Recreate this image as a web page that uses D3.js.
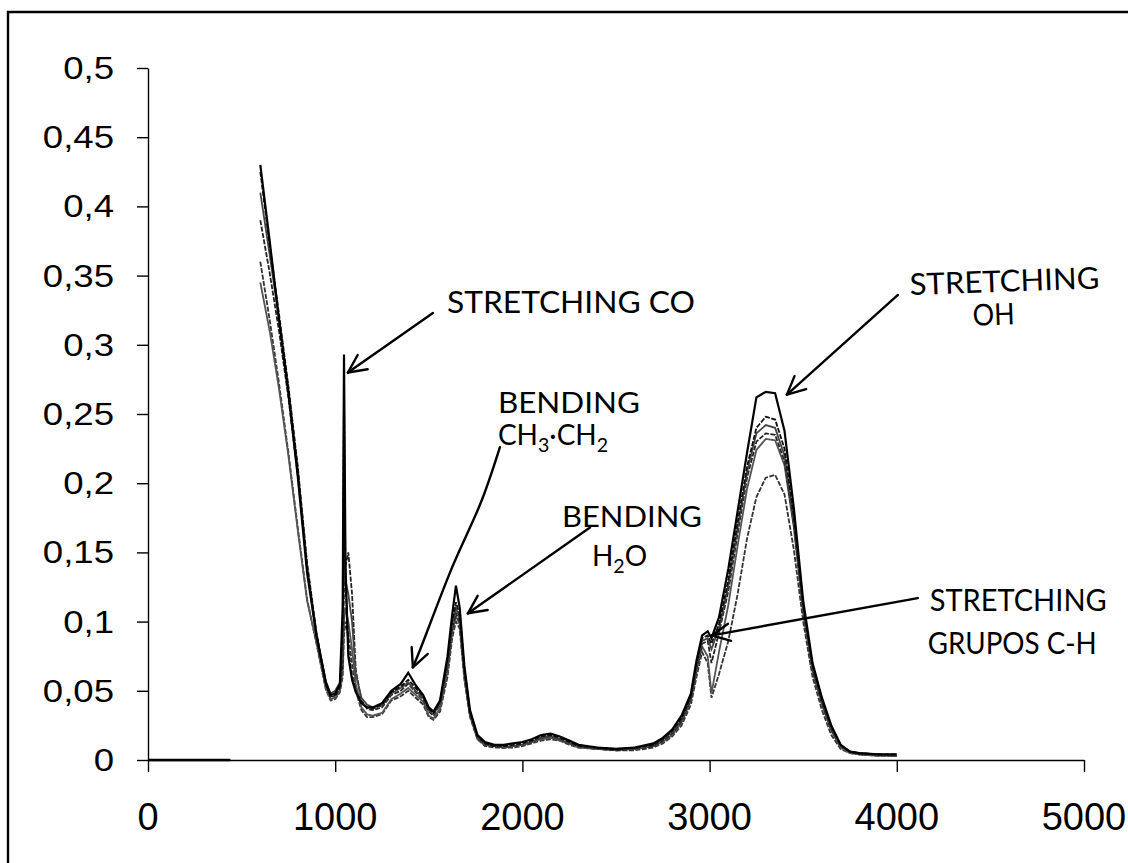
<!DOCTYPE html>
<html lang="es">
<head>
  <meta charset="UTF-8">
  <title>Espectro IR</title>
  <script src="https://d3js.org/d3.v7.min.js"></script>
  <style>
    body { margin: 0; background: #fff; }
    svg { display: block; }
    .hand { font-family: "Lato", "Open Sans", sans-serif; font-weight: 400; fill: #000; }
  </style>
</head>
<body>
<div id="chart"></div>
<script>
// wavenumber grid (cm-1)
const wavenumbers = [600, 650, 700, 750, 800, 850, 900, 950, 975, 1000,
  1025, 1040, 1047, 1055, 1070, 1090, 1110, 1140, 1170, 1200,
  1250, 1300, 1350, 1390, 1430, 1470, 1500, 1525, 1560, 1600,
  1625, 1645, 1665, 1690, 1720, 1760, 1800, 1850, 1900, 1950,
  2000, 2050, 2100, 2150, 2200, 2250, 2300, 2400, 2500, 2600,
  2700, 2750, 2800, 2850, 2900, 2930, 2960, 2990, 3010, 3050,
  3100, 3150, 3200, 3250, 3300, 3350, 3400, 3450, 3500, 3550,
  3600, 3650, 3700, 3750, 3800, 3900, 4000];

// absorbance of each sample
const sample1 = [0.430, 0.375, 0.318, 0.265, 0.205, 0.135, 0.090, 0.056, 0.047, 0.048,
  0.055, 0.110, 0.293, 0.140, 0.075, 0.058, 0.049, 0.041, 0.038, 0.038,
  0.041, 0.050, 0.055, 0.063, 0.054, 0.047, 0.038, 0.035, 0.043, 0.075,
  0.105, 0.126, 0.110, 0.068, 0.036, 0.018, 0.013, 0.011, 0.011, 0.012,
  0.013, 0.015, 0.018, 0.019, 0.017, 0.014, 0.011, 0.009, 0.008, 0.009,
  0.012, 0.016, 0.022, 0.032, 0.048, 0.072, 0.090, 0.093, 0.088, 0.103,
  0.138, 0.180, 0.222, 0.262, 0.266, 0.265, 0.238, 0.182, 0.115, 0.070,
  0.045, 0.025, 0.011, 0.006, 0.005, 0.004, 0.004];
const sample2 = [0.425, 0.372, 0.322, 0.270, 0.212, 0.142, 0.092, 0.055, 0.046, 0.047,
  0.054, 0.095, 0.264, 0.130, 0.080, 0.060, 0.050, 0.042, 0.038, 0.037,
  0.040, 0.049, 0.053, 0.058, 0.052, 0.046, 0.037, 0.034, 0.042, 0.072,
  0.100, 0.114, 0.105, 0.066, 0.035, 0.017, 0.012, 0.010, 0.010, 0.011,
  0.012, 0.014, 0.017, 0.018, 0.016, 0.013, 0.010, 0.009, 0.008, 0.009,
  0.011, 0.015, 0.021, 0.030, 0.046, 0.070, 0.088, 0.090, 0.084, 0.098,
  0.130, 0.172, 0.212, 0.240, 0.248, 0.246, 0.225, 0.175, 0.112, 0.068,
  0.043, 0.024, 0.011, 0.006, 0.005, 0.004, 0.004];
const sample3 = [0.410, 0.365, 0.318, 0.268, 0.210, 0.140, 0.091, 0.057, 0.048, 0.050,
  0.056, 0.080, 0.160, 0.130, 0.120, 0.100, 0.062, 0.045, 0.040, 0.038,
  0.039, 0.048, 0.052, 0.056, 0.050, 0.045, 0.036, 0.033, 0.041, 0.070,
  0.098, 0.110, 0.102, 0.064, 0.034, 0.016, 0.011, 0.010, 0.009, 0.010,
  0.011, 0.013, 0.016, 0.017, 0.015, 0.012, 0.010, 0.008, 0.008, 0.008,
  0.011, 0.015, 0.020, 0.029, 0.045, 0.068, 0.086, 0.088, 0.080, 0.095,
  0.126, 0.168, 0.208, 0.236, 0.242, 0.240, 0.220, 0.172, 0.110, 0.066,
  0.042, 0.023, 0.010, 0.006, 0.005, 0.004, 0.003];
const sample4 = [0.390, 0.352, 0.310, 0.262, 0.206, 0.138, 0.089, 0.054, 0.046, 0.046,
  0.052, 0.070, 0.120, 0.140, 0.150, 0.120, 0.065, 0.043, 0.037, 0.036,
  0.038, 0.047, 0.050, 0.055, 0.049, 0.044, 0.035, 0.032, 0.040, 0.068,
  0.095, 0.106, 0.100, 0.062, 0.033, 0.016, 0.011, 0.010, 0.009, 0.010,
  0.011, 0.013, 0.016, 0.017, 0.015, 0.012, 0.010, 0.008, 0.007, 0.008,
  0.010, 0.014, 0.019, 0.028, 0.044, 0.066, 0.084, 0.086, 0.070, 0.092,
  0.122, 0.164, 0.204, 0.230, 0.236, 0.235, 0.216, 0.170, 0.108, 0.065,
  0.041, 0.022, 0.010, 0.006, 0.004, 0.004, 0.003];
const sample5 = [0.345, 0.310, 0.268, 0.220, 0.166, 0.115, 0.085, 0.052, 0.044, 0.045,
  0.050, 0.065, 0.100, 0.110, 0.100, 0.080, 0.055, 0.038, 0.033, 0.032,
  0.034, 0.044, 0.048, 0.052, 0.047, 0.042, 0.032, 0.030, 0.037, 0.064,
  0.092, 0.104, 0.098, 0.060, 0.032, 0.015, 0.011, 0.010, 0.009, 0.010,
  0.011, 0.013, 0.015, 0.016, 0.014, 0.012, 0.009, 0.008, 0.007, 0.008,
  0.010, 0.013, 0.018, 0.027, 0.043, 0.064, 0.082, 0.075, 0.048, 0.078,
  0.112, 0.155, 0.196, 0.224, 0.232, 0.231, 0.213, 0.168, 0.106, 0.064,
  0.040, 0.021, 0.009, 0.005, 0.004, 0.003, 0.003];
const sample6 = [0.360, 0.318, 0.272, 0.222, 0.168, 0.116, 0.084, 0.051, 0.043, 0.044,
  0.049, 0.060, 0.090, 0.100, 0.090, 0.070, 0.050, 0.036, 0.031, 0.031,
  0.033, 0.043, 0.046, 0.050, 0.045, 0.040, 0.031, 0.029, 0.035, 0.060,
  0.088, 0.100, 0.095, 0.058, 0.031, 0.015, 0.010, 0.009, 0.009, 0.009,
  0.010, 0.012, 0.014, 0.015, 0.014, 0.011, 0.009, 0.008, 0.007, 0.007,
  0.009, 0.012, 0.017, 0.025, 0.040, 0.060, 0.078, 0.070, 0.045, 0.062,
  0.086, 0.120, 0.160, 0.190, 0.204, 0.206, 0.192, 0.152, 0.100, 0.060,
  0.036, 0.018, 0.008, 0.005, 0.004, 0.003, 0.003];

// short flat trace lying on the axis
const zeroX = [0, 440];
const zeroY = [0, 0];

const xTicks = [0, 1000, 2000, 3000, 4000, 5000];
const yTicks = [0, 0.05, 0.1, 0.15, 0.2, 0.25, 0.3, 0.35, 0.4, 0.45, 0.5];

const samples = [sample6, sample5, sample4, sample3, sample2, sample1];
const sampleColors = ["#333", "#555", "#222", "#444", "#111", "#000"];

const width = 1128, height = 863;
const svg = d3.select("#chart").append("svg")
  .attr("width", width)
  .attr("height", height);

svg.append("rect").attr("width", width).attr("height", height).attr("fill", "#fff");

// scanned frame (top and left edges only)
svg.append("path")
  .attr("d", "M8,863 L8,12 L1128,12")
  .attr("fill", "none")
  .attr("stroke", "#000")
  .attr("stroke-width", 2.4);

const x = d3.scaleLinear().domain([0, 5000]).range([148, 1084]);
const y = d3.scaleLinear().domain([0, 0.5]).range([760, 68]);

const fmt = d => String(+d.toFixed(2)).replace(".", ",");

// axes
const yAxis = svg.append("g")
  .attr("transform", "translate(148,0)")
  .call(d3.axisLeft(y).tickValues(yTicks).tickSize(11).tickSizeOuter(0).tickFormat(""));
const xAxis = svg.append("g")
  .attr("transform", "translate(0,760)")
  .call(d3.axisBottom(x).tickValues(xTicks).tickSize(12).tickSizeOuter(0).tickFormat(""));
[xAxis, yAxis].forEach(g => {
  g.selectAll("path, line").attr("stroke", "#000").attr("stroke-width", 1.4);
});

svg.append("g").selectAll("text")
  .data(yTicks)
  .join("text")
  .attr("transform", d => `translate(114,${y(d) + 11}) scale(1.18,1)`)
  .attr("text-anchor", "end")
  .attr("font-family", "'Liberation Sans', Arial, sans-serif")
  .attr("font-size", 31)
  .attr("fill", "#000")
  .text(fmt);

svg.append("g").selectAll("text")
  .data(xTicks)
  .join("text")
  .attr("x", d => x(d))
  .attr("y", 830)
  .attr("text-anchor", "middle")
  .attr("font-family", "'Liberation Sans', Arial, sans-serif")
  .attr("font-size", 38)
  .attr("fill", "#000")
  .text(d => String(d));

// spectra
const line = d3.line()
  .x(d => x(d[0]))
  .y(d => y(d[1]));

svg.append("path")
  .attr("d", line(zeroX.map((v, i) => [v, zeroY[i]])))
  .attr("fill", "none")
  .attr("stroke", "#000")
  .attr("stroke-width", 2.6);

samples.forEach((s, k) => {
  svg.append("path")
    .attr("d", line(wavenumbers.map((w, i) => [w, s[i]])))
    .attr("fill", "none")
    .attr("stroke", sampleColors[k])
    .attr("stroke-width", k === samples.length - 1 ? 2.2 : 1.8)
    .attr("stroke-dasharray", k % 2 === 0 ? "5,1.5" : null);
});

// hand-written notes (positions in data units)
const notes = [
  { lines: [["STRETCHING CO"]], at: [1597, 0.323], size: 30, len: [248], rot: 0 },
  { lines: [["BENDING"], ["CH", "3", "·CH", "2"]], at: [1869, 0.251], size: 28, len: [142, null], rot: 0, dy: 32 },
  { lines: [["BENDING"], ["H", "2", "O"]], at: [2211, 0.168], size: 28, len: [140, null], rot: 0, dy: 39, indent: [0, 30] },
  { lines: [["STRETCHING"], ["OH"]], at: [4070, 0.336], size: 30, len: [190, 42], rot: -2, dy: 33, indent: [0, 62] },
  { lines: [["STRETCHING"], ["GRUPOS C-H"]], at: [4176, 0.108], size: 30, len: [177, 169], rot: 0, dy: 43, indent: [0, -2] }
];

notes.forEach(n => {
  const g = svg.append("g")
    .attr("transform", `translate(${x(n.at[0])},${y(n.at[1])}) rotate(${n.rot})`);
  n.lines.forEach((parts, li) => {
    const t = g.append("text")
      .attr("class", "hand")
      .attr("x", n.indent ? n.indent[li] : 0)
      .attr("y", li * (n.dy || 0))
      .attr("font-size", n.size);
    if (parts.length === 1) {
      t.text(parts[0]);
      if (n.len[li]) t.attr("textLength", n.len[li]).attr("lengthAdjust", "spacingAndGlyphs");
    } else {
      parts.forEach((p, pi) => {
        const sub = pi % 2 === 1;
        t.append("tspan")
          .attr("font-size", sub ? n.size * 0.7 : n.size)
          .attr("dy", sub ? 7 : (pi > 0 ? -7 : 0))
          .text(p);
      });
    }
  });
});

// arrows (data units)
const arrows = [
  [[1522, 0.323], [1068, 0.280]],
  [[1880, 0.226], [1784, 0.188], [1624, 0.139], [1453, 0.0795], [1415, 0.067]],
  [[2361, 0.168], [1709, 0.106]],
  [[4006, 0.336], [3413, 0.264]],
  [[4112, 0.117], [3012, 0.090]]
];

const arrowLine = d3.line().x(d => x(d[0])).y(d => y(d[1])).curve(d3.curveCatmullRom);

arrows.forEach(pts => {
  svg.append("path")
    .attr("d", arrowLine(pts))
    .attr("fill", "none")
    .attr("stroke", "#000")
    .attr("stroke-width", 2.4)
    .attr("stroke-linecap", "round");
  const tip = pts[pts.length - 1], prev = pts[pts.length - 2];
  const tx = x(tip[0]), ty = y(tip[1]);
  const ang = Math.atan2(y(prev[1]) - ty, x(prev[0]) - tx);
  [0.45, -0.45].forEach(da => {
    svg.append("line")
      .attr("x1", tx).attr("y1", ty)
      .attr("x2", tx + 20 * Math.cos(ang + da))
      .attr("y2", ty + 20 * Math.sin(ang + da))
      .attr("stroke", "#000")
      .attr("stroke-width", 2.4)
      .attr("stroke-linecap", "round");
  });
});
</script>
</body>
</html>
